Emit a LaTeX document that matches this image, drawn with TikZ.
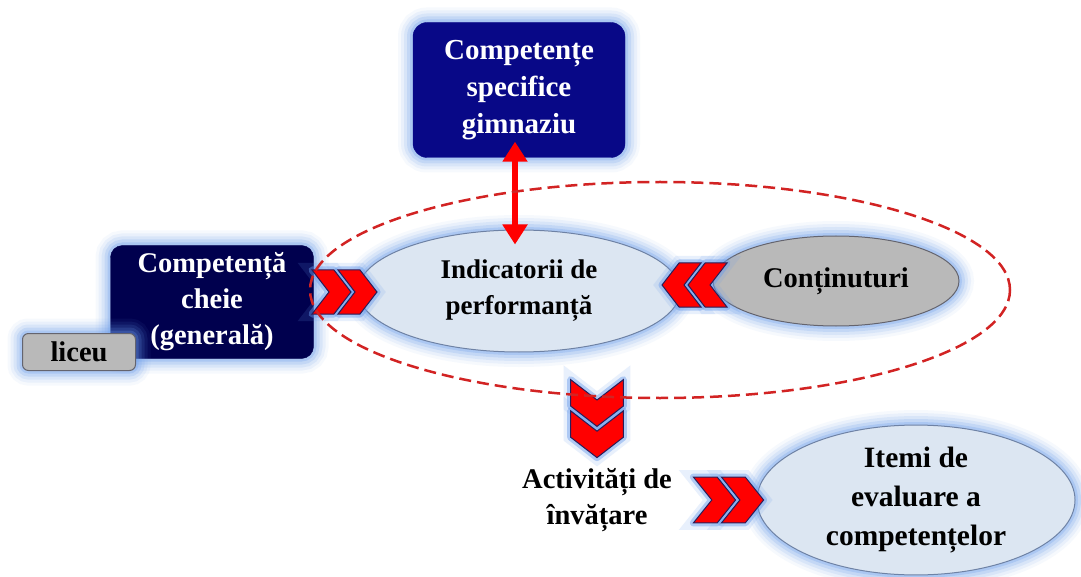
\documentclass[tikz,border=0pt]{standalone}
\usepackage{fontspec}
\setmainfont{Liberation Serif}
\usetikzlibrary{shapes.geometric,arrows.meta}
\definecolor{boxblue}{RGB}{8,8,135}
\definecolor{navybox}{RGB}{0,0,78}
\definecolor{ellfill}{RGB}{220,230,242}
\definecolor{ellline}{RGB}{110,130,165}
\definecolor{glowc}{RGB}{105,155,235}
\definecolor{grayfill}{RGB}{185,185,185}
\definecolor{grayline}{RGB}{100,100,110}
\definecolor{chevline}{RGB}{40,30,90}
\definecolor{dashred}{RGB}{210,35,35}
\tikzset{
  glow/.style={preaction={draw=glowc,line width=30pt,opacity=0.06},
               preaction={draw=glowc,line width=24pt,opacity=0.09},
               preaction={draw=glowc,line width=18pt,opacity=0.13},
               preaction={draw=glowc,line width=12pt,opacity=0.18},
               preaction={draw=glowc,line width=6pt,opacity=0.26}},
  fs/.style={font=\fontsize{#1}{36}\selectfont\bfseries},
  txt/.style={fs=28.5, align=center},
  bluebox/.style={glow, rectangle, rounded corners=14pt, fill=boxblue, draw=boxblue, text=white, txt, inner sep=0pt},
  navyrect/.style={glow, rectangle, rounded corners=12pt, fill=navybox, draw=navybox, text=white, txt, inner sep=0pt},
  grayrect/.style={glow, rectangle, rounded corners=6pt, fill=grayfill, draw=grayline, line width=1pt, txt, inner sep=0pt},
  lightell/.style={glow, ellipse, fill=ellfill, draw=ellline, line width=1pt, txt, inner sep=0pt},
  grayell/.style={glow, ellipse, fill=grayfill, draw=grayline, line width=1pt, txt, inner sep=0pt},
  chevglow/.style={draw=glowc, fill=glowc, line width=7pt, opacity=0.45, line join=round,
                   preaction={draw=glowc,line width=14pt,opacity=0.15}},
  chevfill/.style={fill=red, draw=chevline, line width=1pt, line join=miter},
  dchev/.pic={
    \foreach \a in {-32,-6} {
      \path[chevglow] (\a,-22) -- ++(22,0) -- ++(17,22) -- ++(-17,22) -- ++(-22,0) -- ++(17,-22) -- cycle;
    }
    \foreach \a in {-32,-6} {
      \path[chevfill] (\a,-22) -- ++(22,0) -- ++(17,22) -- ++(-17,22) -- ++(-22,0) -- ++(17,-22) -- cycle;
    }
  },
  redarrow/.style={draw=red, line width=6pt, {Triangle[width=24pt,length=20pt]}-{Triangle[width=24pt,length=20pt]}},
  groupell/.style={draw=dashred, dash pattern=on 12pt off 6pt, line width=2.5pt, ellipse, inner sep=0pt}
}
\begin{document}
\begin{tikzpicture}[x=1pt,y=-1pt]
\fill[white] (0,0) rectangle (1081,577);
\useasboundingbox (0,0) rectangle (1081,577);

\node[bluebox, font=\fontsize{29}{37}\selectfont\bfseries, minimum width=212pt, minimum height=135pt] (csg) at (519,90) {Competențe\\specifice\\gimnaziu};
\node[lightell, font=\fontsize{27}{36}\selectfont\bfseries, minimum width=322pt, minimum height=122pt] (ind) at (519,291) {Indicatorii de\\performanță};
\node[grayell, minimum width=246pt, minimum height=90pt] (con) at (836,281) {Conținuturi};
\node[navyrect, minimum width=203pt, minimum height=113pt] (cheie) at (212,302) {Competență\\cheie\\(generală)};
\node[grayrect, minimum width=113pt, minimum height=37pt] (liceu) at (79,352) {liceu};
\node[lightell, font=\fontsize{29.5}{39}\selectfont\bfseries, minimum width=318pt, minimum height=126pt] (itemi) at (916,500) {Itemi de\\evaluare a\\competențelor};
\node[txt] (act) at (597,500) {Activități de\\învățare};

\pic at (344,292) {dchev};
\pic[rotate=180] at (695,285) {dchev};
\pic[rotate=-90, scale=1.2] at (597,418) {dchev};
\pic[xscale=1.08, yscale=1.04] at (728,500) {dchev};

\coordinate (ax) at (515,0);
\draw[redarrow, shorten <=-16pt, shorten >=-15pt] (csg.south -| ax) -- (ind.north -| ax);

\node[groupell, minimum width=700pt, minimum height=216pt] (grp) at (660,290) {};
\end{tikzpicture}
\end{document}
